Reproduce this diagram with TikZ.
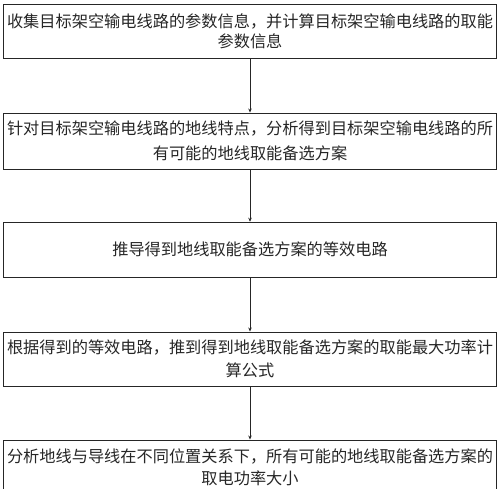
\documentclass[tikz,border=0pt]{standalone}
\usepackage{fontspec}
\newfontfamily\cjk{Noto Sans CJK SC}
\usetikzlibrary{arrows.meta}
\tikzset{
  stepbox/.style={draw=black!85, line width=0.9pt, minimum width=493pt, inner sep=0pt,
    align=center, text=black!85},
  flow/.style={draw=black!85, line width=0.8pt, -{Stealth[length=4pt,width=3.5pt]}}
}
\begin{document}
\begin{tikzpicture}[x=1pt,y=-1pt]
\useasboundingbox (0,0) rectangle (500,488);
\clip (0,0) rectangle (500,488);
\node[stepbox, minimum height=54.5pt, font=\cjk\fontsize{16.2}{20.5}\selectfont] (b1) at (250,31.25)
  {收集目标架空输电线路的参数信息，并计算目标架空输电线路的取能\\参数信息};
\node[stepbox, minimum height=56pt, font=\cjk\fontsize{16.2}{25}\selectfont] (b2) at (250,141)
  {针对目标架空输电线路的地线特点，分析得到目标架空输电线路的所\\有可能的地线取能备选方案};
\node[stepbox, minimum height=55pt, font=\cjk\fontsize{16.2}{20}\selectfont] (b3) at (250,249.7)
  {推导得到地线取能备选方案的等效电路};
\node[stepbox, minimum height=54pt, font=\cjk\fontsize{16.2}{23}\selectfont] (b4) at (250,359)
  {根据得到的等效电路，推到得到地线取能备选方案的取能最大功率计\\算公式};
\node[stepbox, minimum height=55pt, font=\cjk\fontsize{16.2}{22.5}\selectfont] (b5) at (250,467.5)
  {分析地线与导线在不同位置关系下，所有可能的地线取能备选方案的\\取电功率大小};
\draw[flow] (b1) -- (b2);
\draw[flow] (b2) -- (b3);
\draw[flow] (b3) -- (b4);
\draw[flow] (b4) -- (b5);
\end{tikzpicture}
\end{document}
